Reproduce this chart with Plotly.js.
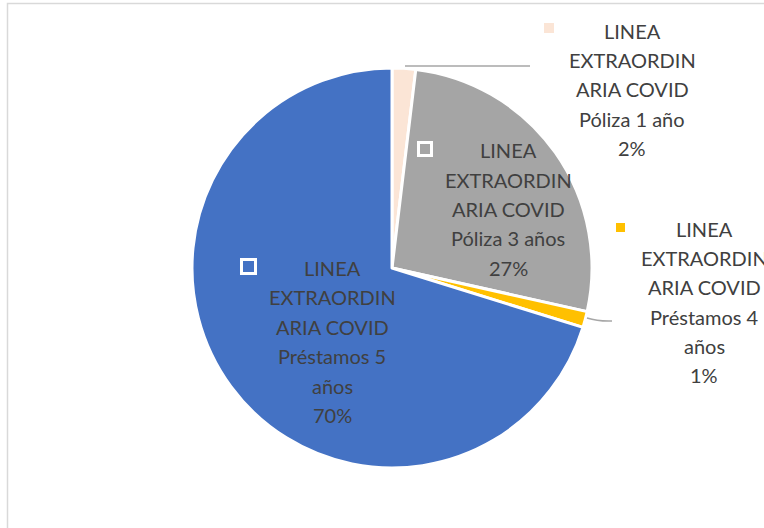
<!DOCTYPE html>
<html>
<head>
<meta charset="utf-8">
<script src="https://cdn.plot.ly/plotly-3.0.1.min.js"></script>
<style>html,body{margin:0;padding:0;background:#fff;}#chart{width:764px;height:528px;}</style>
</head>
<body>
<div id="chart"></div>
<script>
// ---- data ----
var categories = [
  "LINEA EXTRAORDINARIA COVID Póliza 1 año",
  "LINEA EXTRAORDINARIA COVID Póliza 3 años",
  "LINEA EXTRAORDINARIA COVID Préstamos 4 años",
  "LINEA EXTRAORDINARIA COVID Préstamos 5 años"
];
var values = [1.9, 26.6, 1.3, 70.2];
var colors = ["#FBE5D6", "#A5A5A5", "#FFC000", "#4472C4"];
// wrapped label lines as shown in the chart
var labelLines = [
  ["LINEA", "EXTRAORDIN", "ARIA COVID", "Póliza 1 año"],
  ["LINEA", "EXTRAORDIN", "ARIA COVID", "Póliza 3 años"],
  ["LINEA", "EXTRAORDIN", "ARIA COVID", "Préstamos 4", "años"],
  ["LINEA", "EXTRAORDIN", "ARIA COVID", "Préstamos 5", "años"]
];

// ---- layout helpers (pixel -> paper) ----
var W = 764, H = 528;
function px(x) { return x / W; }
function py(y) { return 1 - y / H; }

var total = values.reduce(function (a, b) { return a + b; }, 0);
var pct = values.map(function (v) { return Math.round(v / total * 100) + "%"; });

// label placement: centre x, first line y, line step, key box
var labelPos = [
  { cx: 632, y0: 31, step: 29.2, key: { x0: 544, x1: 554, y0: 23, y1: 33, bordered: false } },
  { cx: 508, y0: 150, step: 29.5, key: { x0: 418.5, x1: 431.5, y0: 142.5, y1: 155.5, bordered: true } },
  { cx: 704, y0: 229, step: 29.2, key: { x0: 616, x1: 625, y0: 223, y1: 232, bordered: false } },
  { cx: 332, y0: 268, step: 29.4, key: { x0: 241.5, x1: 255.5, y0: 259.5, y1: 273.5, bordered: true } }
];

var annotations = [];
var shapes = [];
// chart frame (only left and top edges are visible)
shapes.push({
  type: "rect", xref: "paper", yref: "paper",
  x0: px(7.5), x1: px(820), y0: py(3.5), y1: py(600),
  line: { color: "#D9D9D9", width: 1.5 }, fillcolor: "rgba(0,0,0,0)", layer: "below"
});

labelPos.forEach(function (p, i) {
  var lines = labelLines[i].concat([pct[i]]);
  lines.forEach(function (t, j) {
    annotations.push({
      xref: "paper", yref: "paper",
      x: px(p.cx), y: py(p.y0 + j * p.step),
      xanchor: "center", yanchor: "middle",
      text: t, showarrow: false,
      font: { family: "Lato, 'Noto Sans', sans-serif", size: 20, color: "#404040" }
    });
  });
  var k = p.key;
  shapes.push({
    type: "rect", xref: "paper", yref: "paper",
    x0: px(k.x0), x1: px(k.x1), y0: py(k.y0), y1: py(k.y1),
    fillcolor: colors[i],
    line: k.bordered ? { color: "#FFFFFF", width: 3 } : { width: 0 }
  });
});

// leader lines
shapes.push({
  type: "path", xref: "paper", yref: "paper",
  path: "M " + px(405) + " " + py(66) + " L " + px(530) + " " + py(66),
  line: { color: "#A6A6A6", width: 1.5 }
});
shapes.push({
  type: "path", xref: "paper", yref: "paper",
  path: "M " + px(587) + " " + py(318) + " Q " + px(598) + " " + py(321.5) + " " + px(612) + " " + py(321),
  line: { color: "#A6A6A6", width: 1.5 }
});

var trace = {
  type: "pie",
  labels: categories,
  values: values,
  sort: false,
  direction: "clockwise",
  rotation: 0,
  marker: { colors: colors, line: { color: "#FFFFFF", width: 3 } },
  textinfo: "none",
  hoverinfo: "skip",
  automargin: false,
  domain: { x: [px(192), px(592)], y: [py(468), py(68)] },
  showlegend: false
};

var layout = {
  width: W, height: H,
  margin: { l: 0, r: 0, t: 0, b: 0 },
  paper_bgcolor: "#FFFFFF",
  showlegend: false,
  annotations: annotations,
  shapes: shapes
};

Plotly.newPlot("chart", [trace], layout, { staticPlot: true, displayModeBar: false });
</script>
</body>
</html>
